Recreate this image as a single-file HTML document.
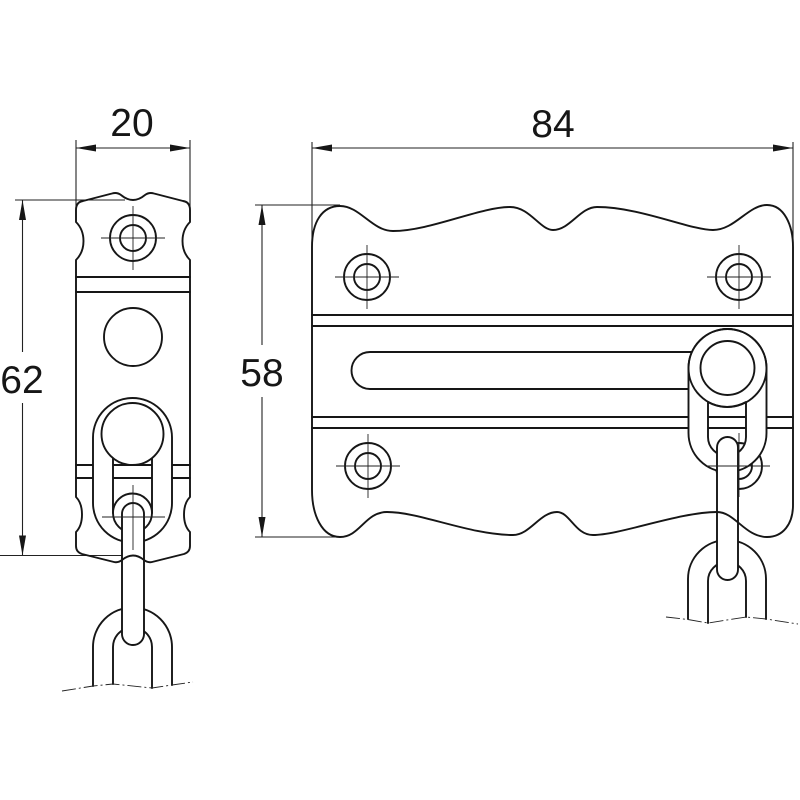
<!DOCTYPE html>
<html>
<head>
<meta charset="utf-8">
<style>
  html,body{margin:0;padding:0;background:#fff;}
  svg{display:block;}
  .o{fill:none;stroke:#161616;stroke-width:1.9;stroke-linejoin:round;stroke-linecap:round;}
  .w{fill:#fff;stroke:#161616;stroke-width:1.9;stroke-linejoin:round;}
  .d{fill:none;stroke:#222;stroke-width:1.1;}
  .c{fill:none;stroke:#222;stroke-width:0.9;}
  .a{fill:#161616;stroke:none;}
  .t{font-family:"Liberation Sans","DejaVu Sans",sans-serif;font-size:39px;fill:#161616;text-anchor:middle;}
</style>
</head>
<body>
<svg width="800" height="800" viewBox="0 0 800 800" xmlns="http://www.w3.org/2000/svg">

<!-- ================= DIMENSIONS ================= -->
<!-- 20 -->
<line class="d" x1="76" y1="140" x2="76" y2="208"/>
<line class="d" x1="190" y1="140" x2="190" y2="208"/>
<line class="d" x1="76" y1="148" x2="190" y2="148"/>
<polygon class="a" points="76,148 96,144.5 96,151.5"/>
<polygon class="a" points="190,148 170,144.5 170,151.5"/>
<text class="t" x="132" y="136">20</text>

<!-- 62 -->
<line class="d" x1="15" y1="200" x2="125" y2="200"/>
<line class="d" x1="0" y1="555.5" x2="122" y2="555.5"/>
<line class="d" x1="22.5" y1="200" x2="22.5" y2="352"/>
<line class="d" x1="22.5" y1="403" x2="22.5" y2="555.5"/>
<polygon class="a" points="22.5,200 19,220 26,220"/>
<polygon class="a" points="22.5,555.5 19,535.5 26,535.5"/>
<text class="t" x="22" y="393">62</text>

<!-- 84 -->
<line class="d" x1="312" y1="142" x2="312" y2="250"/>
<line class="d" x1="793" y1="142" x2="793" y2="250"/>
<line class="d" x1="312" y1="148" x2="793" y2="148"/>
<polygon class="a" points="312,148 332,144.5 332,151.5"/>
<polygon class="a" points="793,148 773,144.5 773,151.5"/>
<text class="t" x="553" y="137">84</text>

<!-- 58 -->
<line class="d" x1="255" y1="205" x2="340" y2="205"/>
<line class="d" x1="255" y1="537" x2="340" y2="537"/>
<line class="d" x1="262" y1="205" x2="262" y2="345"/>
<line class="d" x1="262" y1="397" x2="262" y2="537"/>
<polygon class="a" points="262,205 258.5,225 265.5,225"/>
<polygon class="a" points="262,537 258.5,517 265.5,517"/>
<text class="t" x="262" y="386">58</text>

<!-- ================= LEFT VIEW ================= -->
<line class="o" x1="76" y1="277" x2="190" y2="277"/>
<line class="o" x1="76" y1="292" x2="190" y2="292"/>
<circle class="o" cx="133" cy="238" r="23"/>
<circle class="o" cx="133" cy="238" r="13"/>
<line class="c" x1="101" y1="238" x2="165" y2="238"/>
<line class="c" x1="133" y1="206" x2="133" y2="270"/>
<circle class="o" cx="133" cy="337" r="29"/>

<line class="o" x1="76" y1="465" x2="190" y2="465"/>
<line class="o" x1="76" y1="478" x2="190" y2="478"/>

<!-- lower U link -->
<path class="o" d="M93,686 L93,647 A39.5,39.5 0 0 1 172,647 L172,685"/>
<path class="o" d="M113,684 L113,647 A19.5,19.5 0 0 1 152,647 L152,688"/>

<!-- oval link -->
<path class="w" fill-rule="evenodd" d="M93,437.5 A39.5,39.5 0 0 1 172,437.5 L172,503 A39.5,39.5 0 0 1 93,503 Z M113,450 L113,513 A19.5,19.5 0 0 0 152,513 L152,450 Z"/>
<path class="o" d="M113,513 A19.5,19.5 0 0 1 152,513"/>
<circle class="w" cx="132.5" cy="434" r="31"/>

<!-- vertical chain link -->
<rect class="w" x="122" y="503" width="22" height="142" rx="11" ry="11"/>

<line class="c" x1="102" y1="517" x2="165" y2="517"/>
<line class="c" x1="133" y1="485" x2="133" y2="550"/>
<polyline class="c" stroke-dasharray="14,3,2,3" points="62,691 93,686 113,684 152,688 172,685 193,682"/>

<!-- left plate outline -->
<path class="o" d="M76,210 Q76,202 83,201 L112,193.5 Q117,192 121,195 Q133,205 145,195 Q149,192 154,193.5 L183,201 Q190,202 190,210
L190,222 C180,232 180,250 190,260 L190,497 C182,505 182,524 190,532 L190,546 Q190,552 184,554 L152,562 Q148,563 144,560 Q133,551 122,560 Q118,563 114,562 L82,554 Q76,552 76,546
L76,532 C84,524 84,505 76,497 L76,260 C86,250 86,232 76,222 Z"/>

<!-- ================= RIGHT VIEW ================= -->
<line class="o" x1="312" y1="315" x2="793" y2="315"/>
<line class="o" x1="312" y1="326" x2="793" y2="326"/>
<line class="o" x1="312" y1="417" x2="793" y2="417"/>
<line class="o" x1="312" y1="428" x2="793" y2="428"/>

<!-- slot -->
<path class="o" d="M692,352 L370,352 A18.5,18.5 0 0 0 370,389 L692,389"/>

<!-- holes -->
<circle class="o" cx="367" cy="277" r="23"/>
<circle class="o" cx="367" cy="277" r="13"/>
<line class="c" x1="335" y1="277" x2="399" y2="277"/>
<line class="c" x1="367" y1="245" x2="367" y2="309"/>

<circle class="o" cx="739" cy="277" r="23"/>
<circle class="o" cx="739" cy="277" r="13"/>
<line class="c" x1="707" y1="277" x2="771" y2="277"/>
<line class="c" x1="739" y1="245" x2="739" y2="309"/>

<circle class="o" cx="368" cy="466" r="23"/>
<circle class="o" cx="368" cy="466" r="13"/>
<line class="c" x1="336" y1="466" x2="400" y2="466"/>
<line class="c" x1="368" y1="434" x2="368" y2="498"/>

<circle class="o" cx="739" cy="466" r="23"/>
<circle class="o" cx="739" cy="466" r="13"/>

<!-- lower U link right -->
<path class="o" d="M688,619 L688,579 A39,39 0 0 1 766,579 L766,619"/>
<path class="o" d="M708,623 L708,581 A19,19 0 0 1 746,581 L746,617"/>

<!-- oval link right -->
<path class="w" fill-rule="evenodd" d="M688.5,368 A39,39 0 0 1 766.5,368 L766.5,433 A39,39 0 0 1 688.5,433 Z M708,402 L708,437 A19,19 0 0 0 746,437 L746,402 A39,39 0 0 1 708,402 Z"/>
<circle class="o" cx="727.5" cy="368" r="39"/>
<circle class="w" cx="727.5" cy="368" r="27"/>

<!-- vertical chain link right -->
<rect class="w" x="717" y="437" width="21" height="143" rx="10.5" ry="10.5"/>

<line class="c" x1="707" y1="466" x2="770" y2="466"/>
<line class="c" x1="739" y1="433" x2="739" y2="497"/>
<polyline class="c" stroke-dasharray="14,3,2,3" points="666,617 688,619.5 708,623 746,617 766,619 798,624"/>

<!-- right plate outline -->
<path class="o" d="M312,490 L312,247 C312,222 322,206 340,206 C360,206 372,231 393,231 C430,231 480,207 510,207 C530,207 540,230 553,230 C570,230 580,207 597,207 C640,207 690,230 713,230 C735,230 748,205 767,205 C784,205 793,225 793,247
L793,505 C793,524 783,537 767,537 C745,537 735,512 717,512 C680,512 620,535 593,535 C575,535 570,512 557,512 C540,512 530,535 513,535 C470,535 420,512 387,512 C365,512 360,537 340,537 C322,537 312,515 312,490 Z"/>

</svg>
</body>
</html>
